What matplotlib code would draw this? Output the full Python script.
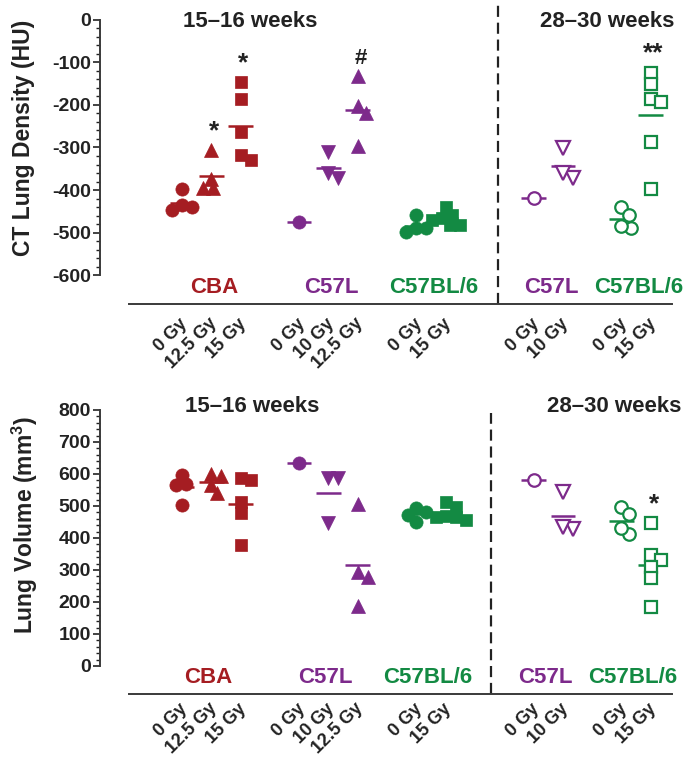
import numpy as np
import matplotlib.pyplot as plt
import matplotlib.transforms as mtransforms

plt.rcParams['font.family'] = ['Liberation Sans', 'DejaVu Sans']
plt.rcParams['font.weight'] = 'bold'
plt.rcParams['axes.labelweight'] = 'bold'
plt.rcParams['axes.unicode_minus'] = False
plt.rcParams['mathtext.fontset'] = 'custom'
plt.rcParams['mathtext.bf'] = 'Liberation Sans:bold'
plt.rcParams['mathtext.rm'] = 'Liberation Sans:bold'

# ---- data ----
dose_labels = ['0 Gy', '12.5 Gy', '15 Gy', '0 Gy', '10 Gy', '12.5 Gy',
               '0 Gy', '15 Gy', '0 Gy', '10 Gy', '0 Gy', '15 Gy']
group_strain = ['CBA', 'CBA', 'CBA', 'C57L', 'C57L', 'C57L',
                'C57BL/6', 'C57BL/6', 'C57L', 'C57L', 'C57BL/6', 'C57BL/6']
group_period = ['15–16 weeks'] * 8 + ['28–30 weeks'] * 4

density_hu = [
    [-398, -435, -447, -440],
    [-306, -374, -396, -396],
    [-146, -186, -263, -329, -318],
    [-475],
    [-310, -372, -360],
    [-132, -202, -218, -296],
    [-459, -490, -498, -490],
    [-440, -459, -466, -482, -482, -470],
    [-419],
    [-302, -372, -360],
    [-441, -458, -490, -484],
    [-124, -151, -187, -192, -286, -398],
]
volume_mm3 = [
    [569, 566, 504, 596],
    [600, 594, 566, 541],
    [581, 588, 478, 378, 513],
    [635],
    [588, 588, 447],
    [506, 294, 278, 188],
    [481, 472, 494, 450],
    [512, 497, 466, 466, 455, 470],
    [581],
    [544, 428, 434],
    [497, 474, 413, 430],
    [447, 347, 331, 309, 275, 185],
]
density_sig = {1: '*', 2: '*', 5: '#', 11: '**'}
volume_sig = {11: '*'}

# ---- styling / layout ----
strain_color = {'CBA': '#a51d22', 'C57L': '#7d2a8b', 'C57BL/6': '#138a43'}
group_marker = ['o', '^', 's', 'o', 'v', '^', 'o', 's', 'o', 'v', 'o', 's']
group_filled = [True] * 8 + [False] * 4
marker_size = {'o': 9.5, 's': 8.5, '^': 10, 'v': 10}
slots = [0, 1, 2, 4, 5, 6, 8, 9, 12, 13, 15, 16]
strain_slots = [(1, 'CBA'), (5, 'C57L'), (8.5, 'C57BL/6'), (12.5, 'C57L'), (15.5, 'C57BL/6')]
text_dark = '#222222'

W, H = 687, 758
fig = plt.figure(figsize=(W / 100, H / 100), dpi=100)
xlim = (-2.8, 17.0)
ax_left, ax_right = 100, 680


def make_axes(top_px, bot_px):
    return fig.add_axes([ax_left / W, 1 - bot_px / H,
                         (ax_right - ax_left) / W, (bot_px - top_px) / H])


def swarm(vals, px_per_unit, slot_px, diam):
    placed = []
    xs = np.zeros(len(vals))
    for i in np.argsort(vals)[::-1]:
        y = vals[i] * px_per_unit
        k = 0
        while True:
            cands = [0.0] if k == 0 else [k * 2.0, -k * 2.0]
            ok = None
            for c in cands:
                if all(np.hypot(c - px, y - py) >= diam for px, py in placed):
                    ok = c
                    break
            if ok is not None:
                placed.append((ok, y))
                xs[i] = ok / slot_px
                break
            k += 1
    return xs


def panel(top_px, bot_px, ylim, values, sig, yticks, ylabel, ylabel_x,
          dash_x, dash_top, label_shift, title_pos, dose_pad):
    ax = make_axes(top_px, bot_px)
    ax.set_xlim(*xlim)
    ax.set_ylim(*ylim)
    ppu = (bot_px - top_px) / (ylim[1] - ylim[0])
    slot_px = (ax_right - ax_left) / (xlim[1] - xlim[0])

    for g, vals in enumerate(values):
        col = strain_color[group_strain[g]]
        m = group_marker[g]
        vals = np.asarray(vals, float)
        xs = slots[g] + swarm(vals, ppu, slot_px, 9.5)
        mean = vals.mean()
        ax.plot([slots[g] - 0.42, slots[g] + 0.42], [mean, mean], color=col,
                lw=1.8, solid_capstyle='butt', zorder=2)
        if group_filled[g]:
            ax.plot(xs, vals, ls='none', marker=m, ms=marker_size[m], mfc=col,
                    mec=col, mew=0.5, zorder=3)
        else:
            ax.plot(xs, vals, ls='none', marker=m, ms=marker_size[m] - 0.5,
                    mfc='white', mec=col, mew=1.6, zorder=3)
        if g in sig:
            ax.annotate(sig[g], (slots[g] + 0.1, vals.max()), xytext=(0, 5),
                        textcoords='offset points', ha='center', va='bottom',
                        fontsize=19 if sig[g] != '#' else 16, color=text_dark)

    # spines
    for s in ['top', 'right']:
        ax.spines[s].set_visible(False)
    ax.spines['left'].set_bounds(yticks[0], yticks[-1])
    ax.spines['bottom'].set_bounds(-1.81, 16.72)
    for s in ['left', 'bottom']:
        ax.spines[s].set_linewidth(1.4)
        ax.spines[s].set_color('#3a3a3a')
    ax.set_yticks(yticks)
    ax.set_yticks(np.arange(yticks[0], yticks[-1] + 1, 20), minor=True)
    ax.tick_params(axis='y', which='major', length=5, width=1.2, pad=1.5,
                   labelsize=14, colors=text_dark)
    ax.tick_params(axis='y', which='minor', length=3, width=1.0, colors=text_dark)
    ax.set_xticks([])
    ax.set_ylabel(ylabel, fontsize=16.5, color=text_dark, labelpad=0)
    ax.yaxis.set_label_coords(ylabel_x, 0.56)

    # rotated dose labels
    trans = mtransforms.offset_copy(ax.get_xaxis_transform(), fig=fig,
                                    x=3, y=-dose_pad, units='dots')
    for g, lab in enumerate(dose_labels):
        ax.text(slots[g], 0, lab, transform=trans, rotation=45, ha='right',
                va='center', rotation_mode='anchor', fontsize=13,
                color=text_dark)

    # strain names
    ytxt = ylim[0] + (ylim[1] - ylim[0]) * 0.055
    for xs_, name in strain_slots:
        ax.text(xs_ + label_shift, ytxt, name, ha='center', va='center',
                fontsize=16, color=strain_color[name])

    # period titles
    for (tx, ty), name in zip(title_pos, ['15–16 weeks', '28–30 weeks']):
        ax.text(tx, ty, name, ha='center', va='center', fontsize=16,
                color=text_dark, clip_on=False)

    ax.axvline(dash_x, ymin=0, ymax=dash_top, color='#222222', lw=1.6,
               ls=(0, (5, 2.6)), clip_on=False)
    return ax


panel(8, 304, (-668, 28), density_hu, density_sig,
      list(range(-600, 1, 100)), 'CT Lung Density (HU)', -0.112,
      10.8, 1.02, 0.1, [(2.32, -4), (14.5, -4)], 17)
panel(392, 694, (-87.5, 856), volume_mm3, volume_sig,
      list(range(0, 801, 100)), r'Lung Volume (mm$^{\mathbf{3}}$)', -0.104,
      10.55, 0.93, -0.1, [(2.39, 812), (14.74, 812)], 12)

fig.savefig('out.png', dpi=100)
